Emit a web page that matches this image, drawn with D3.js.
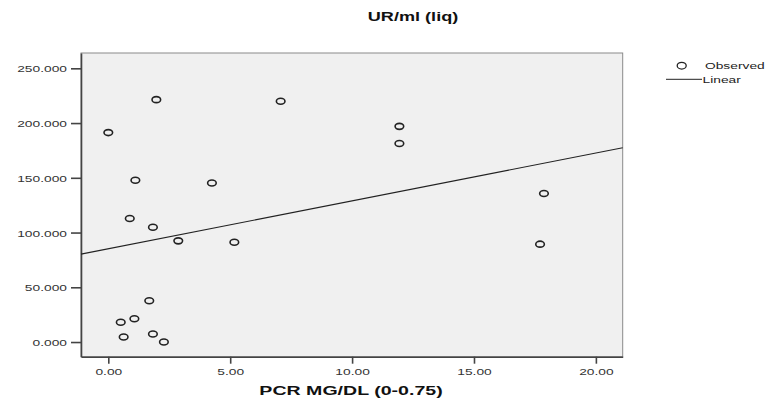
<!DOCTYPE html>
<html>
<head>
<meta charset="utf-8">
<script src="https://cdn.jsdelivr.net/npm/d3@7"></script>
<style>
  body { margin: 0; background: #fff; }
  text { font-family: "Liberation Sans", Arial, sans-serif; }
</style>
</head>
<body>
<svg id="chart" width="772" height="402"></svg>
<script>
// values
var pcr = [1.97, 7.07, 11.94, 11.94, 0.0, 1.11, 4.25, 0.88, 1.83, 2.87, 5.17, 1.68, 0.51, 1.07, 0.63, 1.83, 2.28, 17.87, 17.71];
var urml = [221.4, 219.9, 197.0, 181.3, 191.3, 147.8, 145.3, 112.9, 104.9, 92.4, 91.2, 37.7, 18.0, 21.3, 4.6, 7.3, 0.0, 135.7, 89.4];
var xTicks = [0, 5, 10, 15, 20];
var yTicks = [0, 50, 100, 150, 200, 250];
var fitIntercept = 85.2, fitSlope = 4.37;

var SX = 1.45; // the source picture is stretched sideways

var svg = d3.select("#chart");
var L = 81, R = 622.7, T = 53, B = 356.7;

var x = d3.scaleLinear().domain([-1.12, 21.1]).range([L, R]);
var y = d3.scaleLinear().domain([-13.4, 264]).range([B, T]);

svg.append("rect")
	.attr("x", L).attr("y", T)
	.attr("width", R - L).attr("height", B - T)
	.attr("fill", "#f0f0f0")
	.attr("stroke", "#8a8a8a")
	.attr("stroke-width", 1);

var stretchText = function(sel, dx, dy) {
	sel.attr("x", null).attr("y", null).attr("dy", null)
		.attr("transform", "translate(" + dx + "," + dy + ") scale(" + SX + ",1)");
};

var yAxis = svg.append("g")
	.attr("transform", "translate(" + L + ",0)")
	.call(d3.axisLeft(y).tickValues(yTicks).tickFormat(d3.format(".3f")).tickSize(10).tickSizeOuter(0));
yAxis.selectAll("text").call(stretchText, -14, 3.5)
	.attr("font-size", 9.5).attr("fill", "#333");

var xAxis = svg.append("g")
	.attr("transform", "translate(0," + B + ")")
	.call(d3.axisBottom(x).tickValues(xTicks).tickFormat(d3.format(".2f")).tickSize(7).tickSizeOuter(0));
xAxis.selectAll("text").call(stretchText, 0, 18)
	.attr("font-size", 9.5).attr("fill", "#333");

svg.selectAll(".domain").attr("stroke", "#444").attr("stroke-width", 1.6);
svg.selectAll(".tick line").attr("stroke", "#444").attr("stroke-width", 1.6);

// fit line
var xd = x.domain();
svg.append("line")
	.attr("x1", x(xd[0])).attr("y1", y(fitIntercept + fitSlope * xd[0]))
	.attr("x2", x(xd[1])).attr("y2", y(fitIntercept + fitSlope * xd[1]))
	.attr("stroke", "#222").attr("stroke-width", 1.1);

svg.append("g").selectAll("ellipse")
	.data(d3.range(pcr.length))
	.enter().append("ellipse")
	.attr("cx", function(i) { return x(pcr[i]); })
	.attr("cy", function(i) { return y(urml[i]); })
	.attr("rx", 4.3).attr("ry", 3)
	.attr("fill", "none")
	.attr("stroke", "#222")
	.attr("stroke-width", 1.6);

// title and axis label
svg.append("text").text("UR/ml (liq)")
	.attr("text-anchor", "middle").attr("font-weight", "bold").attr("font-size", 12.5)
	.attr("fill", "#111")
	.attr("transform", "translate(413,20.5) scale(" + SX + ",1)");

svg.append("text").text("PCR MG/DL (0-0.75)")
	.attr("text-anchor", "middle").attr("font-weight", "bold").attr("font-size", 13.5)
	.attr("fill", "#111")
	.attr("transform", "translate(351,395) scale(" + SX + ",1)");

// legend
svg.append("ellipse")
	.attr("cx", 681.7).attr("cy", 65.7).attr("rx", 4.5).attr("ry", 3.4)
	.attr("fill", "none").attr("stroke", "#222").attr("stroke-width", 1.3);
svg.append("line")
	.attr("x1", 666).attr("x2", 702).attr("y1", 79.3).attr("y2", 79.3)
	.attr("stroke", "#222").attr("stroke-width", 1);
svg.append("text").text("Observed")
	.attr("font-size", 9.5).attr("fill", "#222")
	.attr("transform", "translate(705,68.8) scale(" + SX + ",1)");
svg.append("text").text("Linear")
	.attr("font-size", 9.5).attr("fill", "#222")
	.attr("transform", "translate(702.5,82.5) scale(" + SX + ",1)");
</script>
</body>
</html>
